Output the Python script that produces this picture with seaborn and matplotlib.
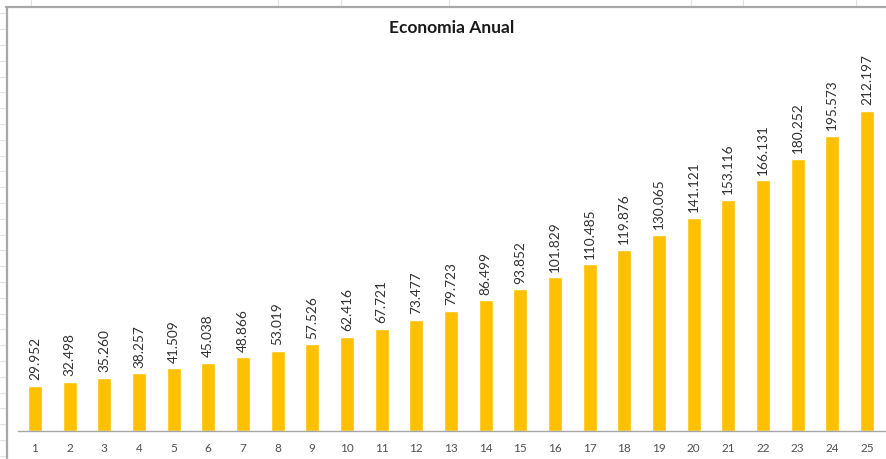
import matplotlib
matplotlib.use("Agg")
import matplotlib.pyplot as plt
from matplotlib.lines import Line2D
import seaborn as sns
import pandas as pd

# Annual savings per year (values shown with pt-BR thousands separator)
years = list(range(1, 26))
savings = [29952, 32498, 35260, 38257, 41509, 45038, 48866, 53019, 57526, 62416,
           67721, 73477, 79723, 86499, 93852, 101829, 110485, 119876, 130065, 141121,
           153116, 166131, 180252, 195573, 212197]
title = "Economia Anual"

df = pd.DataFrame({"ano": years, "economia": savings})

sns.set_theme(style="white")
plt.rcParams["font.family"] = ["Lato", "DejaVu Sans"]

W, H = 886, 459
fig = plt.figure(figsize=(W / 100, H / 100), dpi=100)
fig.patch.set_facecolor("white")

# spreadsheet cell lines around the embedded chart
grid_col = "#e3e3e3"
for xp in [31, 278, 341, 449, 691, 743, 856]:
    fig.add_artist(Line2D([xp / W, xp / W], [1, 1 - 6 / H], transform=fig.transFigure,
                          color=grid_col, lw=0.8))
y = 13.3
while y < H:
    fig.add_artist(Line2D([0, 6 / W], [1 - y / H, 1 - y / H], transform=fig.transFigure,
                          color=grid_col, lw=0.8))
    y += 15.8

# chart frame
fig.add_artist(Line2D([6 / W, 1], [1 - 7 / H, 1 - 7 / H], transform=fig.transFigure,
                      color="#a8a8a8", lw=1.6))
fig.add_artist(Line2D([7 / W, 7 / W], [0, 1 - 7 / H], transform=fig.transFigure,
                      color="#a8a8a8", lw=1.6))

ax = fig.add_axes([18 / W, 1 - 431 / H, 1 - 18 / W, (431 - 60) / H])
sns.barplot(data=df, x="ano", y="economia", color="#FFC000", width=0.4,
            saturation=1, ax=ax)

ax.set_xlim(-0.49, 24.55)
ax.set_ylim(0, 371 / 1.51 * 1000)

labels = [f"{v:,}".replace(",", ".") for v in savings]
ax.bar_label(ax.containers[0], labels=labels, rotation=90, padding=4,
             fontsize=9.8, color="#303030")

for s in ["top", "left", "right"]:
    ax.spines[s].set_visible(False)
ax.spines["bottom"].set_color("#a6a6a6")
ax.spines["bottom"].set_linewidth(1.0)
ax.set_yticks([])
ax.set_xlabel("")
ax.set_ylabel("")
ax.tick_params(axis="x", length=0, pad=9, labelsize=8.5, labelcolor="#505050")
ax.set_facecolor("none")

fig.text(452 / W, 1 - 28 / H, title, ha="center", va="center",
         fontsize=12.5, fontweight="bold", color="#1a1a1a")

fig.savefig("out.png", dpi=100)
